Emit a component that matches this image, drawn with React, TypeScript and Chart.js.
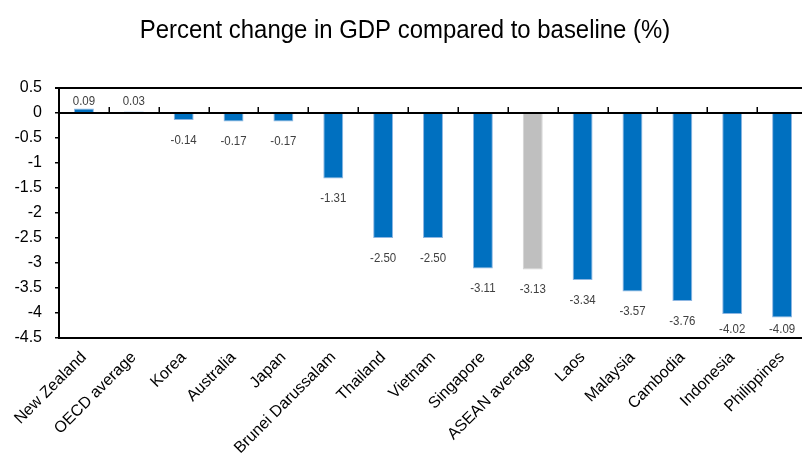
import React, { useEffect, useRef } from "react";
import { Chart, registerables } from "chart.js";

Chart.register(...registerables);

// Series data
const categories: string[] = [
  "New Zealand",
  "OECD average",
  "Korea",
  "Australia",
  "Japan",
  "Brunei Darussalam",
  "Thailand",
  "Vietnam",
  "Singapore",
  "ASEAN average",
  "Laos",
  "Malaysia",
  "Cambodia",
  "Indonesia",
  "Philippines",
];
const gdpChange: number[] = [
  0.09, 0.03, -0.14, -0.17, -0.17, -1.31, -2.5, -2.5, -3.11, -3.13, -3.34, -3.57,
  -3.76, -4.02, -4.09,
];
const highlighted: string[] = ["ASEAN average"];

const titleText = "Percent change in GDP compared to baseline (%)";
const yMin = -4.5;
const yMax = 0.5;
const yStep = 0.5;

const BLUE = "#0070C0";
const BLUE_EDGE = "#8DB6E2";
const GREY = "#BFBFBF";
const GREY_EDGE = "#D3D3D3";
const FONT = "'Liberation Sans', Arial, sans-serif";

// Title drawn slightly condensed, centred over the canvas
const titlePlugin = {
  id: "condensedTitle",
  afterDraw(chart: any) {
    const { ctx } = chart;
    ctx.save();
    ctx.fillStyle = "#000";
    ctx.font = `26px ${FONT}`;
    ctx.textAlign = "center";
    ctx.textBaseline = "alphabetic";
    ctx.translate(chart.width / 2 - 1, 38);
    ctx.scale(0.92, 1);
    ctx.fillText(titleText, 0, 0);
    ctx.restore();
  },
};

// Zero line with small upward ticks between categories, plus the top frame line
const axisDecorPlugin = {
  id: "axisDecor",
  afterDatasetsDraw(chart: any) {
    const { ctx, chartArea } = chart;
    const x = chart.scales.x;
    const y = chart.scales.y;
    const y0 = y.getPixelForValue(0);
    ctx.save();
    ctx.strokeStyle = "#000";
    ctx.lineWidth = 2;
    ctx.beginPath();
    ctx.moveTo(chartArea.left, Math.round(y0));
    ctx.lineTo(chartArea.right, Math.round(y0));
    ctx.moveTo(chartArea.left - 4, chartArea.top);
    ctx.lineTo(chartArea.right, chartArea.top);
    ctx.stroke();
    const step = x.getPixelForTick(1) - x.getPixelForTick(0);
    ctx.lineWidth = 1.5;
    ctx.beginPath();
    for (let i = 0; i < categories.length - 1; i++) {
      const bx = Math.round(x.getPixelForTick(i) + step / 2) + 0.25;
      ctx.moveTo(bx, Math.round(y0));
      ctx.lineTo(bx, Math.round(y0) - 6);
    }
    ctx.stroke();
    ctx.restore();
  },
};

// Value labels above positive bars and below negative bars, kept inside the plot
const valueLabelPlugin = {
  id: "valueLabels",
  afterDatasetsDraw(chart: any) {
    const { ctx, chartArea } = chart;
    const meta = chart.getDatasetMeta(0);
    const y = chart.scales.y;
    const y0 = y.getPixelForValue(0);
    ctx.save();
    ctx.fillStyle = "#404040";
    ctx.font = `13.5px ${FONT}`;
    ctx.textAlign = "center";
    ctx.textBaseline = "middle";
    meta.data.forEach((bar: any, i: number) => {
      const v = gdpChange[i];
      const ly =
        v >= 0
          ? y0 - 12
          : Math.min(y.getPixelForValue(v) + 20, chartArea.bottom - 9);
      ctx.save();
      ctx.translate(bar.x, ly);
      ctx.scale(0.85, 1);
      ctx.fillText(v.toFixed(2), 0, 0);
      ctx.restore();
    });
    ctx.restore();
  },
};

export default function App() {
  const canvasRef = useRef<HTMLCanvasElement | null>(null);

  useEffect(() => {
    const canvas = canvasRef.current;
    if (!canvas) return;
    const fill = categories.map((c) => (highlighted.includes(c) ? GREY : BLUE));
    const edge = categories.map((c) => (highlighted.includes(c) ? GREY_EDGE : BLUE_EDGE));

    const chart = new Chart(canvas, {
      type: "bar",
      data: {
        labels: categories,
        datasets: [
          {
            data: gdpChange,
            backgroundColor: fill,
            borderColor: edge,
            borderWidth: 1,
            categoryPercentage: 1,
            barPercentage: 0.4,
          },
        ],
      },
      options: {
        responsive: false,
        animation: false,
        devicePixelRatio: 1,
        layout: { padding: { top: 88, right: 5, left: 0, bottom: 0 } },
        plugins: {
          legend: { display: false },
          title: { display: false },
          tooltip: { enabled: false },
        },
        scales: {
          x: {
            type: "category",
            position: "bottom",
            grid: { display: false, drawTicks: false },
            border: { display: true, color: "#000", width: 2 },
            ticks: {
              autoSkip: false,
              minRotation: 45,
              maxRotation: 45,
              padding: 10,
              color: "#000",
              font: { family: FONT, size: 16 },
            },
            afterFit(scale: any) {
              scale.height = 116;
            },
          },
          y: {
            min: yMin,
            max: yMax,
            grid: {
              display: true,
              drawOnChartArea: false,
              drawTicks: true,
              tickLength: 4,
              color: "#000",
              lineWidth: 1.5,
            },
            border: { display: true, color: "#000", width: 2 },
            ticks: {
              stepSize: yStep,
              padding: 13,
              color: "#000",
              font: { family: FONT, size: 16 },
              callback: (v: any) => String(Number(v)),
            },
            afterFit(scale: any) {
              scale.width = 59;
            },
          },
        },
      },
      plugins: [axisDecorPlugin, valueLabelPlugin, titlePlugin],
    });

    return () => chart.destroy();
  }, []);

  return (
    <div
      style={{
        position: "fixed",
        left: 0,
        top: 0,
        width: 802,
        height: 454,
        overflow: "hidden",
        background: "#fff",
      }}
    >
      <canvas ref={canvasRef} width={812} height={454} style={{ display: "block" }} />
    </div>
  );
}
